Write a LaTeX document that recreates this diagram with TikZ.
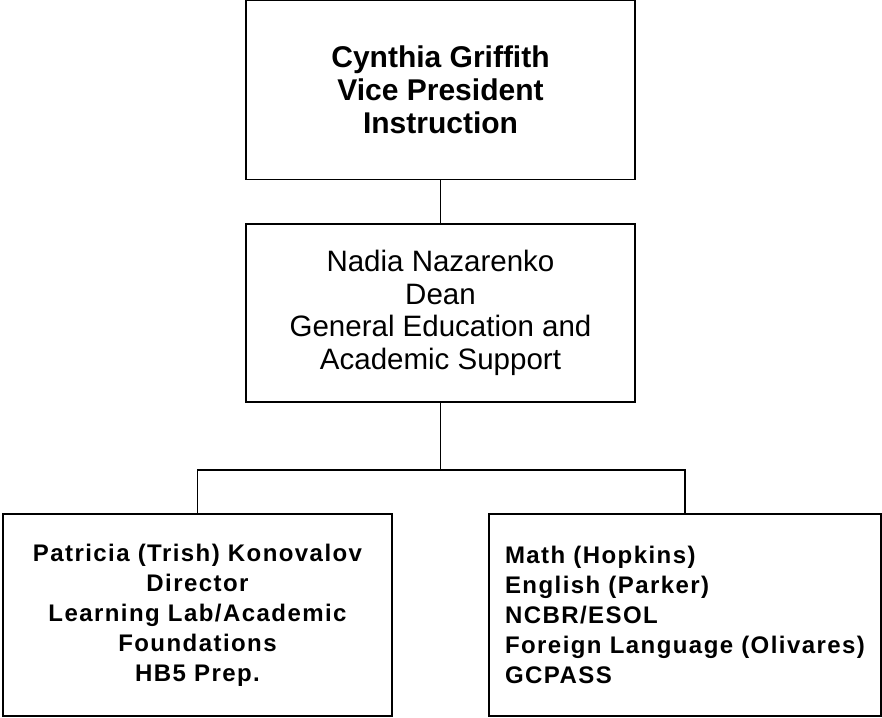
\documentclass[tikz,border=0pt]{standalone}
\usepackage{fontspec}
\setmainfont{Liberation Sans}
\newfontfamily\spacedfont[LetterSpace=6]{Liberation Sans}
\begin{document}
\begin{tikzpicture}[x=1pt,y=-1pt,
  box/.style={draw, line width=1.4pt, inner sep=0pt, align=center},
  smalltext/.style={font=\spacedfont\fontsize{24}{30}\selectfont\bfseries},
  link/.style={line width=1.4pt}]
\useasboundingbox (0,0) rectangle (882,717);
\node[box, font=\fontsize{30}{33}\selectfont\bfseries, minimum width=389pt, minimum height=179pt] (top) at (440.5,90)
  {Cynthia Griffith\\Vice President\\Instruction};
\node[box, font=\fontsize{29.5}{32.5}\selectfont, minimum width=389pt, minimum height=178pt] (mid) at (440.5,313)
  {Nadia Nazarenko\\Dean\\General Education and\\Academic Support};
\node[box, smalltext, minimum width=389pt, minimum height=202pt] (left) at (197.5,615)
  {Patricia (Trish) Konovalov\\Director\\Learning Lab/Academic\\Foundations\\HB5 Prep.};
\node[box, smalltext, align=left, minimum width=392pt, minimum height=202pt] (right) at (685,615)
  {Math (Hopkins)\\English (Parker)\\NCBR/ESOL\\Foreign Language (Olivares)\\GCPASS};
\coordinate (j) at (440.5,470);
\draw[link] (top.south) -- (mid.north);
\draw[link] (mid.south) -- (j);
\draw[link] (left.north) |- (j) -| (right.north);
\end{tikzpicture}
\end{document}
